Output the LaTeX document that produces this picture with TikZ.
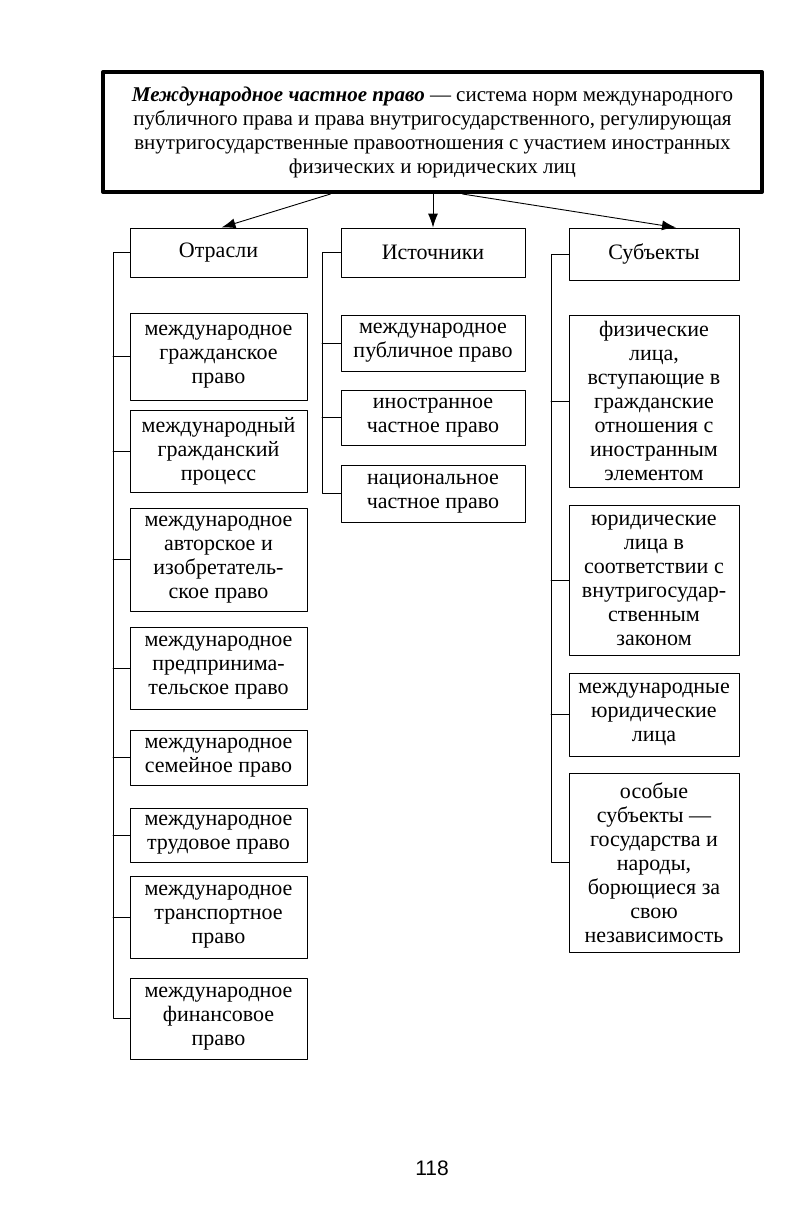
\documentclass[tikz,border=0pt]{standalone}
\usepackage{fontspec}
\setmainfont{Liberation Serif}
\newfontfamily\pagefont{Liberation Sans}
\usetikzlibrary{arrows.meta}

\begin{document}
\begin{tikzpicture}[x=1pt,y=-1pt,line cap=round,line join=round]
  \tikzset{
    box/.style={draw=black,line width=0.9pt,inner sep=0pt,align=center,
      font=\fontsize{22}{24}\selectfont},
    otrbox/.style={box,minimum width=177pt},
    istbox/.style={box,minimum width=184pt},
    subbox/.style={box,minimum width=170pt},
    link/.style={draw=black,line width=0.9pt},
    arr/.style={draw=black,line width=0.9pt,-{Latex[length=14pt,width=10pt]}}
  }
  \useasboundingbox (0,0) rectangle (801,1224);
  % Definition at the top, in a heavy frame.
  \node[box,line width=4pt,minimum width=659pt,minimum height=120pt,
    font=\fontsize{21}{24}\selectfont] (def) at (432.5,132)
    {\textbf{\textit{Международное частное право}} — система норм международного\\
     публичного права и права внутригосударственного, регулирующая\\
     внутригосударственные правоотношения с участием иностранных\\
     физических и юридических лиц};

  \node[otrbox,minimum height=49pt] (otr) at (218.5,252.5) {Отрасли};
  \node[istbox,minimum height=49pt] (ist) at (433,252.5) {Источники};
  \node[subbox,minimum height=52pt] (sub) at (654,254) {Субъекты};

  \draw[arr] ([xshift=-102pt]def.south) -- ([xshift=3pt]otr.north);
  \draw[arr] (ist.north |- def.south) -- (ist.north);
  \draw[arr] ([xshift=30pt]def.south) -- ([xshift=22pt]sub.north);

  % Branches of the law.
  \node[otrbox,minimum height=87pt]  (otr1) at (218.5,356.5) {международное\\гражданское\\право};
  \node[otrbox,minimum height=82pt]  (otr2) at (218.5,451)   {международный\\гражданский\\процесс};
  \node[otrbox,minimum height=103pt] (otr3) at (218.5,559.5) {международное\\авторское и\\изобретатель-\\ское право};
  \node[otrbox,minimum height=82pt]  (otr4) at (218.5,668)   {международное\\предпринима-\\тельское право};
  \node[otrbox,minimum height=55pt]  (otr5) at (218.5,757.5) {международное\\семейное право};
  \node[otrbox,minimum height=54pt]  (otr6) at (218.5,835)   {международное\\трудовое право};
  \node[otrbox,minimum height=82pt]  (otr7) at (218.5,917)   {международное\\транспортное\\право};
  \node[otrbox,minimum height=81pt]  (otr8) at (218.5,1018.5) {международное\\финансовое\\право};

  % Sources.
  \node[istbox,minimum height=56pt] (ist1) at (433,343)   {международное\\публичное право};
  \node[istbox,minimum height=55pt] (ist2) at (433,417.5) {иностранное\\частное право};
  \node[istbox,minimum height=57pt] (ist3) at (433,493.5) {национальное\\частное право};

  % Subjects.
  \node[subbox,minimum height=172pt] (sub1) at (654,401)
    {физические\\лица,\\вступающие в\\гражданские\\отношения с\\иностранным\\элементом};
  \node[subbox,minimum height=150pt] (sub2) at (654,580)
    {юридические\\лица в\\соответствии с\\внутригосудар-\\ственным\\законом};
  \node[subbox,minimum height=83pt]  (sub3) at (654,714.5) {международные\\юридические\\лица};
  \node[subbox,minimum height=179pt] (sub4) at (654,862.5)
    {особые\\субъекты —\\государства и\\народы,\\борющиеся за\\свою\\независимость};

  \coordinate (otrbar) at (113,0);
  \coordinate (istbar) at (322,0);
  \coordinate (subbar) at (551,0);

  \draw[link] (otr.west) -| (otrbar |- otr8.west) -- (otr8.west);
  \foreach \i in {1,...,7} \draw[link] (otr\i.west) -- (otr\i.west -| otrbar);
  \draw[link] (ist.west) -| (istbar |- ist3.west) -- (ist3.west);
  \foreach \i in {1,2} \draw[link] (ist\i.west) -- (ist\i.west -| istbar);
  \draw[link] (sub.west) -| (subbar |- sub4.west) -- (sub4.west);
  \foreach \i in {1,2,3} \draw[link] (sub\i.west) -- (sub\i.west -| subbar);

  \node[font=\pagefont\fontsize{21}{24}\selectfont] (page) at (432,1168) {118};
\end{tikzpicture}
\end{document}
